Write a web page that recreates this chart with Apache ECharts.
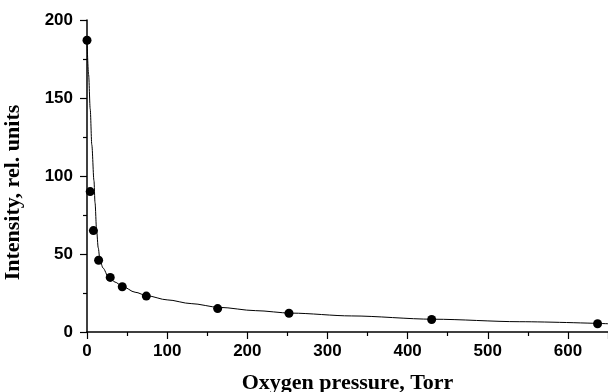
<!DOCTYPE html>
<html>
<head>
<meta charset="utf-8">
<script src="https://cdn.jsdelivr.net/npm/echarts@6/dist/echarts.min.js"></script>
<style>
html,body{margin:0;padding:0;background:#fff;}
#c{width:608px;height:392px;}
</style>
</head>
<body>
<div id="c"></div>
<script>
// Measured points
var pressure = [0, 4, 8, 14.5, 29, 44, 74, 163, 252, 430, 637];
var intensity = [187, 90, 65, 46, 35, 29, 23, 15, 12, 8, 5.3];
// Fitted curve
var curveX = [0, 2, 4, 6, 8.7, 10, 12, 14, 16.2, 20, 26.6, 35, 44, 60, 75, 100, 130, 165, 210, 255, 330, 432, 540, 650];
var curveY = [187, 165, 143, 120, 97, 83, 65, 54, 46, 41, 35.4, 32, 29.3, 25.5, 23.2, 20.6, 18.2, 15.8, 13.7, 12.1, 10.3, 8.2, 6.6, 5.3];
var xTitle = 'Oxygen pressure, Torr';
var yTitle = 'Intensity, rel. units';

var pts = pressure.map(function(x, i){ return [x, intensity[i]]; });
var curve = curveX.map(function(x, i){ return [x, curveY[i]]; });

var labelFont = {fontFamily:'Liberation Sans, Arial, sans-serif', fontWeight:'bold', fontSize:17, color:'#000'};
var titleFont = {fontFamily:'Liberation Serif, Times New Roman, serif', fontWeight:'bold', fontSize:22, color:'#000'};

var chart = echarts.init(document.getElementById('c'), null, {renderer:'canvas'});
chart.setOption({
  animation:false,
  backgroundColor:'#fff',
  grid:{left:87, right:0, top:20, bottom:60, containLabel:false, outerBoundsMode:'none'},
  xAxis:{
    type:'value', min:0, max:650, interval:100,
    name:xTitle, nameLocation:'middle', nameGap:40,
    nameTextStyle:titleFont,
    axisLine:{show:true, onZero:false, lineStyle:{color:'#000', width:1.5}},
    axisTick:{show:true, inside:false, length:7, lineStyle:{color:'#000', width:1.2}},
    minorTick:{show:true, splitNumber:2, length:4, lineStyle:{color:'#000', width:1.2}},
    axisLabel:Object.assign({margin:11, showMaxLabel:false}, labelFont),
    splitLine:{show:false}
  },
  yAxis:{
    type:'value', min:0, max:200, interval:50,
    name:yTitle, nameLocation:'middle', nameGap:63,
    nameTextStyle:Object.assign({padding:[0,33,0,0]}, titleFont),
    axisLine:{show:true, onZero:false, lineStyle:{color:'#000', width:1.5}},
    axisTick:{show:true, inside:false, length:7, lineStyle:{color:'#000', width:1.2}},
    minorTick:{show:true, splitNumber:2, length:4, lineStyle:{color:'#000', width:1.2}},
    axisLabel:Object.assign({margin:14}, labelFont),
    splitLine:{show:false}
  },
  series:[
    {type:'line', data:curve, showSymbol:false, smooth:0.3, smoothMonotone:'x',
     lineStyle:{color:'#000', width:1}, silent:true, z:2},
    {type:'scatter', data:pts, symbol:'circle', symbolSize:9,
     itemStyle:{color:'#000', opacity:1}, z:3}
  ]
});
</script>
</body>
</html>
